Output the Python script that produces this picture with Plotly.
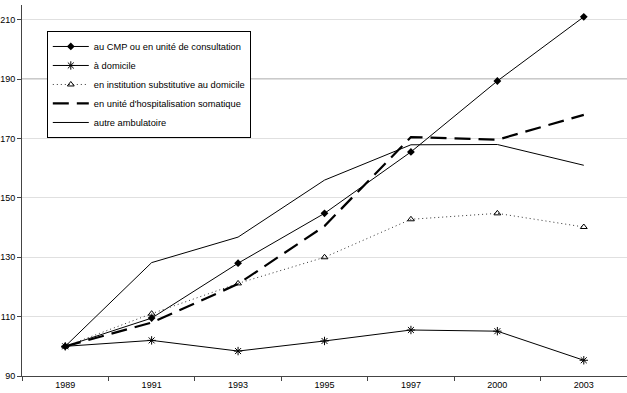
import plotly.graph_objects as go

years = ["1989", "1991", "1993", "1995", "1997", "2000", "2003"]
cmp_vals = [100, 109.5, 128, 144.8, 165.5, 189.4, 211]
domicile = [100, 102, 98.4, 101.8, 105.5, 105.1, 95.3]
institution = [100, 111, 121.2, 130, 142.8, 144.8, 140.2]
hospitalisation = [100, 108, 121, 140.5, 170.5, 169.6, 178]
autre = [100, 128.2, 136.8, 156, 167.9, 168, 161]
names = ["au CMP ou en unité de consultation", "à domicile",
         "en institution substitutive au domicile",
         "en unité d'hospitalisation somatique", "autre ambulatoire"]

fig = go.Figure()
fig.add_trace(go.Scatter(x=years, y=cmp_vals, name=names[0], mode="lines+markers",
                         line=dict(color="black", width=1),
                         marker=dict(symbol="diamond", size=6, color="black")))
fig.add_trace(go.Scatter(x=years, y=domicile, name=names[1], mode="lines+markers",
                         line=dict(color="black", width=1),
                         marker=dict(symbol="asterisk-open", size=7, color="black",
                                     line=dict(color="black", width=1))))
fig.add_trace(go.Scatter(x=years, y=institution, name=names[2], mode="lines+markers",
                         line=dict(color="#333333", width=1, dash="1px,3px"),
                         marker=dict(symbol="triangle-up-open", size=6, color="black",
                                     line=dict(color="black", width=1))))
fig.add_trace(go.Scatter(x=years, y=hospitalisation, name=names[3], mode="lines",
                         line=dict(color="black", width=2.2, dash="16px,8px")))
fig.add_trace(go.Scatter(x=years, y=autre, name=names[4], mode="lines",
                         line=dict(color="black", width=1)))

fig.add_shape(type="line", xref="paper", yref="y", x0=0, x1=1, y0=190, y1=190,
              line=dict(color="#555555", width=1), layer="below")

fig.update_layout(
    width=627, height=393,
    margin=dict(l=19, r=0, t=5, b=17),
    paper_bgcolor="white", plot_bgcolor="white",
    font=dict(family="Liberation Sans, Arial, sans-serif", size=9, color="black"),
    showlegend=True,
    legend=dict(x=0.041, y=0.93, xanchor="left", yanchor="top",
                bgcolor="white", bordercolor="black", borderwidth=1,
                font=dict(size=9.3), tracegroupgap=0, itemwidth=36),
    xaxis=dict(type="category", showgrid=False, showline=True, linecolor="#444",
               ticks="outside", tickson="boundaries", ticklen=4, tickcolor="#444",
               range=[-0.5, 6.5], tickfont=dict(size=9)),
    yaxis=dict(range=[90, 215], tickvals=[90, 110, 130, 150, 170, 190, 210],
               showgrid=True, gridcolor="#e0e0e0", gridwidth=1,
               showline=True, linecolor="#444", ticks="outside", ticklen=4,
               tickcolor="#444", zeroline=False, tickfont=dict(size=9)),
)

fig.write_html("out.html")
